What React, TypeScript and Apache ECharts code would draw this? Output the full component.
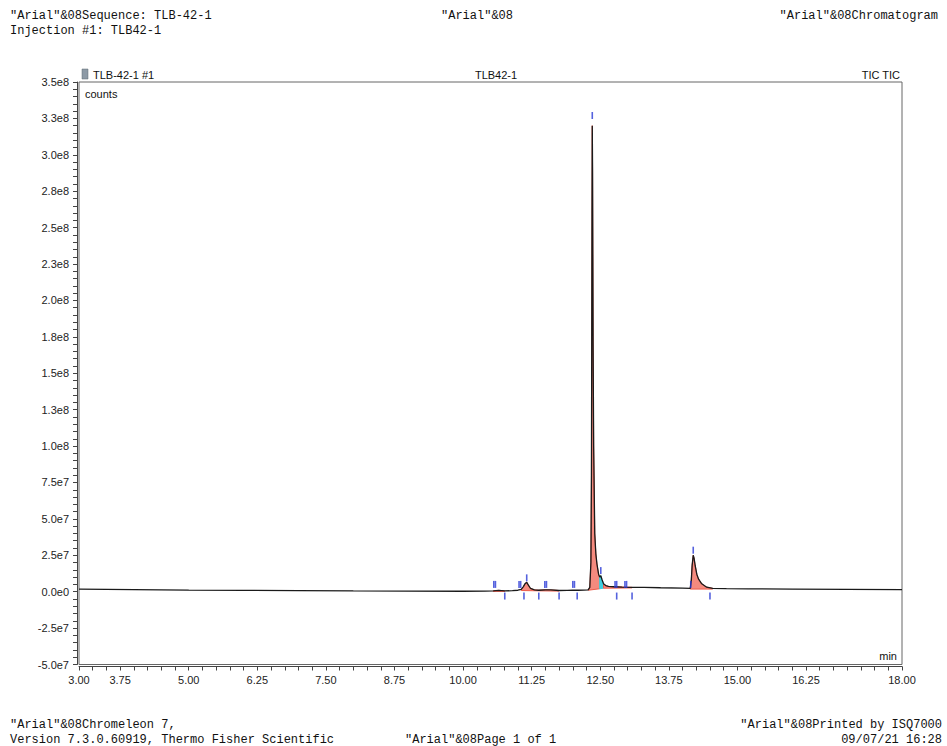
import React, { useEffect, useRef } from "react";
import * as echarts from "echarts";

// Chromatogram trace (retention time in min, intensity in counts)
const times = [
  3.0, 3.5, 4.0, 5.0, 6.0, 7.0, 8.0, 9.0, 10.0, 10.4, 10.55, 10.65, 10.76, 10.9, 11.0,
  11.06, 11.1, 11.13, 11.16, 11.19, 11.23, 11.3, 11.38, 11.5, 11.6, 11.75, 11.9, 12.0,
  12.1, 12.2, 12.28, 12.31, 12.33, 12.34, 12.35, 12.355, 12.36, 12.37, 12.38, 12.4,
  12.42, 12.44, 12.47, 12.49, 12.51, 12.53, 12.56, 12.6, 12.65, 12.75, 12.9, 13.08,
  13.3, 13.6, 14.0, 14.14, 14.16, 14.175, 14.195, 14.21, 14.23, 14.26, 14.29, 14.35,
  14.44, 14.55, 14.8, 15.2, 16.0, 17.0, 18.0,
];
const counts = [
  1.7e6, 1.6e6, 1.4e6, 1.1e6, 0.9e6, 0.7e6, 0.5e6, 0.4e6, 0.3e6, 0.4e6, 0.6e6, 0.9e6, 0.5e6, 0.7e6, 1.0e6,
  1.6e6, 3.5e6, 5.5e6, 6.5e6, 4.5e6, 2.2e6, 1.3e6, 1.0e6, 1.3e6, 1.2e6, 0.8e6, 0.9e6, 1.1e6,
  1.0e6, 1.1e6, 1.3e6, 3.0e6, 2.0e7, 8.0e7, 2.6e8, 3.2e8, 2.9e8, 1.7e8, 1.0e8, 4.0e7,
  2.6e7, 1.9e7, 1.2e7, 1.0e7, 1.1e7, 8.5e6, 5.5e6, 4.2e6, 3.6e6, 3.4e6, 3.2e6, 3.0e6,
  2.9e6, 2.7e6, 2.5e6, 2.3e6, 8.0e6, 1.8e7, 2.5e7, 2.3e7, 1.8e7, 1.2e7, 8.8e6, 5.4e6,
  3.1e6, 2.3e6, 2.1e6, 2.0e6, 1.8e6, 1.6e6, 1.4e6,
];

// Integrated peaks: start/end time and baseline levels
const peakStart = [10.55, 11.06, 11.38, 12.28, 12.49, 12.56, 14.14];
const peakEnd = [10.76, 11.38, 11.75, 12.49, 12.56, 13.08, 14.55];
const baseStart = [0.2e6, 0.8e6, 0.6e6, 1.0e6, 2.0e6, 2.4e6, 1.8e6];
const baseEnd = [0.2e6, 0.6e6, 0.4e6, 2.0e6, 2.4e6, 2.6e6, 1.8e6];
const peakIsRider = [false, false, false, false, true, false, false];

// Peak delimiter / apex markers
const markerTimes = [
  10.56, 10.59, 10.76, 11.02, 11.05, 11.11, 11.16, 11.38, 11.49, 11.52, 11.75,
  12.0, 12.03, 12.08, 12.355, 12.51, 12.77, 12.8, 12.8, 12.95, 12.98, 13.08,
  14.15, 14.195, 14.5,
];
const markerCounts = [
  5e6, 5e6, -3e6, 5e6, 5e6, -3e6, 9.5e6, -3e6, 5e6, 5e6, -3e6,
  5e6, 5e6, -3e6, 3.27e8, 1.45e7, 5e6, 5e6, -3e6, 5e6, 5e6, -3e6,
  5e6, 2.85e7, -3e6,
];

// Axes
const xLabelValues = [3, 3.75, 5, 6.25, 7.5, 8.75, 10, 11.25, 12.5, 13.75, 15, 16.25, 18];
const xMin = 3;
const xMax = 18;
const xMinorStep = 0.25;
const yMin = -5e7;
const yMax = 3.5e8;
const yStep = 2.5e7;
const yMinorStep = 5e6;
const yTickLabels = [
  "-5.0e7", "-2.5e7", "0.0e0", "2.5e7", "5.0e7", "7.5e7", "1.0e8", "1.3e8", "1.5e8",
  "1.8e8", "2.0e8", "2.3e8", "2.5e8", "2.8e8", "3.0e8", "3.3e8", "3.5e8",
];

export default function App() {
  const ref = useRef<HTMLDivElement>(null);

  useEffect(() => {
    document.body.style.margin = "0";
    if (!ref.current) return;
    const chart = echarts.init(ref.current, undefined, { renderer: "svg" });

    const trace = times.map((t, i) => [t, counts[i]]);
    const markers = markerTimes.map((t, i) => [t, markerCounts[i]]);
    const peaks = peakStart.map((s, i) => [s, peakEnd[i], baseStart[i], baseEnd[i], peakIsRider[i] ? 1 : 0]);

    const mono = '"Liberation Mono", "DejaVu Sans Mono", monospace';
    const sans = '"Liberation Sans", Arial, sans-serif';
    const txt = (text: string, x: number, y: number, align: string, font: string) => ({
      type: "text",
      x,
      y,
      silent: true,
      style: { text, font, fill: "#111", textAlign: align, textVerticalAlign: "middle" },
    });
    const axisColor = "#444";

    const xLabel = (v: number) => {
      const hit = xLabelValues.some((l) => Math.abs(l - v) < 1e-6);
      return hit ? v.toFixed(2) : "";
    };
    const yLabel = (v: number) => {
      const k = (v - yMin) / yStep;
      if (Math.abs(k - Math.round(k)) > 1e-6) return "";
      return yTickLabels[Math.round(k)] ?? "";
    };

    chart.setOption({
      animation: false,
      backgroundColor: "#ffffff",
      grid: {
        left: 79,
        right: 45,
        top: 82,
        bottom: 81.5,
        show: true,
        borderColor: "#666",
        borderWidth: 1,
      },
      xAxis: {
        type: "value",
        min: xMin,
        max: xMax,
        interval: xMinorStep,
        position: "bottom",
        offset: 2,
        axisLine: { show: true, onZero: false, lineStyle: { color: axisColor, width: 1 } },
        axisTick: { show: true, length: 4, lineStyle: { color: axisColor } },
        axisLabel: {
          formatter: xLabel,
          fontSize: 11,
          fontFamily: sans,
          color: "#222",
          margin: 8,
          hideOverlap: false,
          showMinLabel: true,
          showMaxLabel: true,
        },
        splitLine: { show: false },
      },
      yAxis: {
        type: "value",
        min: yMin,
        max: yMax,
        interval: yMinorStep,
        position: "left",
        offset: 2,
        axisLine: { show: true, onZero: false, lineStyle: { color: axisColor, width: 1 } },
        axisTick: { show: true, length: 4, lineStyle: { color: axisColor } },
        axisLabel: {
          formatter: yLabel,
          fontSize: 11,
          fontFamily: sans,
          color: "#222",
          margin: 8,
          hideOverlap: false,
          showMinLabel: true,
          showMaxLabel: true,
        },
        splitLine: { show: false },
      },
      series: [
        {
          type: "custom",
          z: 1,
          silent: true,
          encode: { x: [0, 1], y: [2, 3] },
          data: peaks,
          renderItem: (params: any, api: any) => {
            const t0 = api.value(0);
            const t1 = api.value(1);
            const b0 = api.value(2);
            const b1 = api.value(3);
            const rider = api.value(4) === 1;
            const pts: number[][] = [api.coord([t0, b0])];
            for (let i = 0; i < times.length; i++) {
              if (times[i] >= t0 - 1e-9 && times[i] <= t1 + 1e-9) pts.push(api.coord([times[i], counts[i]]));
            }
            pts.push(api.coord([t1, b1]));
            const color = rider ? "#3fcfe0" : "#f58a7e";
            return {
              type: "polygon",
              shape: { points: pts },
              style: { fill: color, stroke: rider ? "#3fcfe0" : "#ee5a4a", lineWidth: 1 },
            };
          },
        },
        {
          type: "line",
          z: 3,
          data: trace,
          showSymbol: false,
          symbol: "none",
          lineStyle: { color: "#1a1a1a", width: 1.3 },
        },
        {
          type: "scatter",
          z: 4,
          data: markers,
          symbol: "rect",
          symbolSize: [1.6, 7],
          itemStyle: { color: "#2b3bd6" },
        },
      ],
      graphic: [
        txt('"Arial"&08Sequence: TLB-42-1', 10, 16, "left", `12px ${mono}`),
        txt("Injection #1: TLB42-1", 10, 31, "left", `12px ${mono}`),
        txt('"Arial"&08', 477, 16, "center", `12px ${mono}`),
        txt('"Arial"&08Chromatogram', 938, 16, "right", `12px ${mono}`),
        txt('"Arial"&08Chromeleon 7,', 10, 725, "left", `12px ${mono}`),
        txt("Version 7.3.0.60919, Thermo Fisher Scientific", 10, 740, "left", `12px ${mono}`),
        txt('"Arial"&08Page 1 of 1', 405, 740, "left", `12px ${mono}`),
        txt('"Arial"&08Printed by ISQ7000', 942, 725, "right", `12px ${mono}`),
        txt("09/07/21 16:28", 942, 740, "right", `12px ${mono}`),
        {
          type: "rect",
          x: 82,
          y: 69,
          silent: true,
          shape: { width: 6, height: 10 },
          style: { fill: "#8d9aa6", stroke: "#5c6873", lineWidth: 0.5 },
        },
        txt("TLB-42-1 #1", 93, 75, "left", `11px ${sans}`),
        txt("TLB42-1", 496, 75, "center", `11px ${sans}`),
        txt("TIC TIC", 900, 75, "right", `11px ${sans}`),
        txt("counts", 85, 94, "left", `11px ${sans}`),
        txt("min", 897, 656, "right", `11px ${sans}`),
      ],
    });

    return () => chart.dispose();
  }, []);

  return <div ref={ref} style={{ width: 947, height: 746 }} />;
}
